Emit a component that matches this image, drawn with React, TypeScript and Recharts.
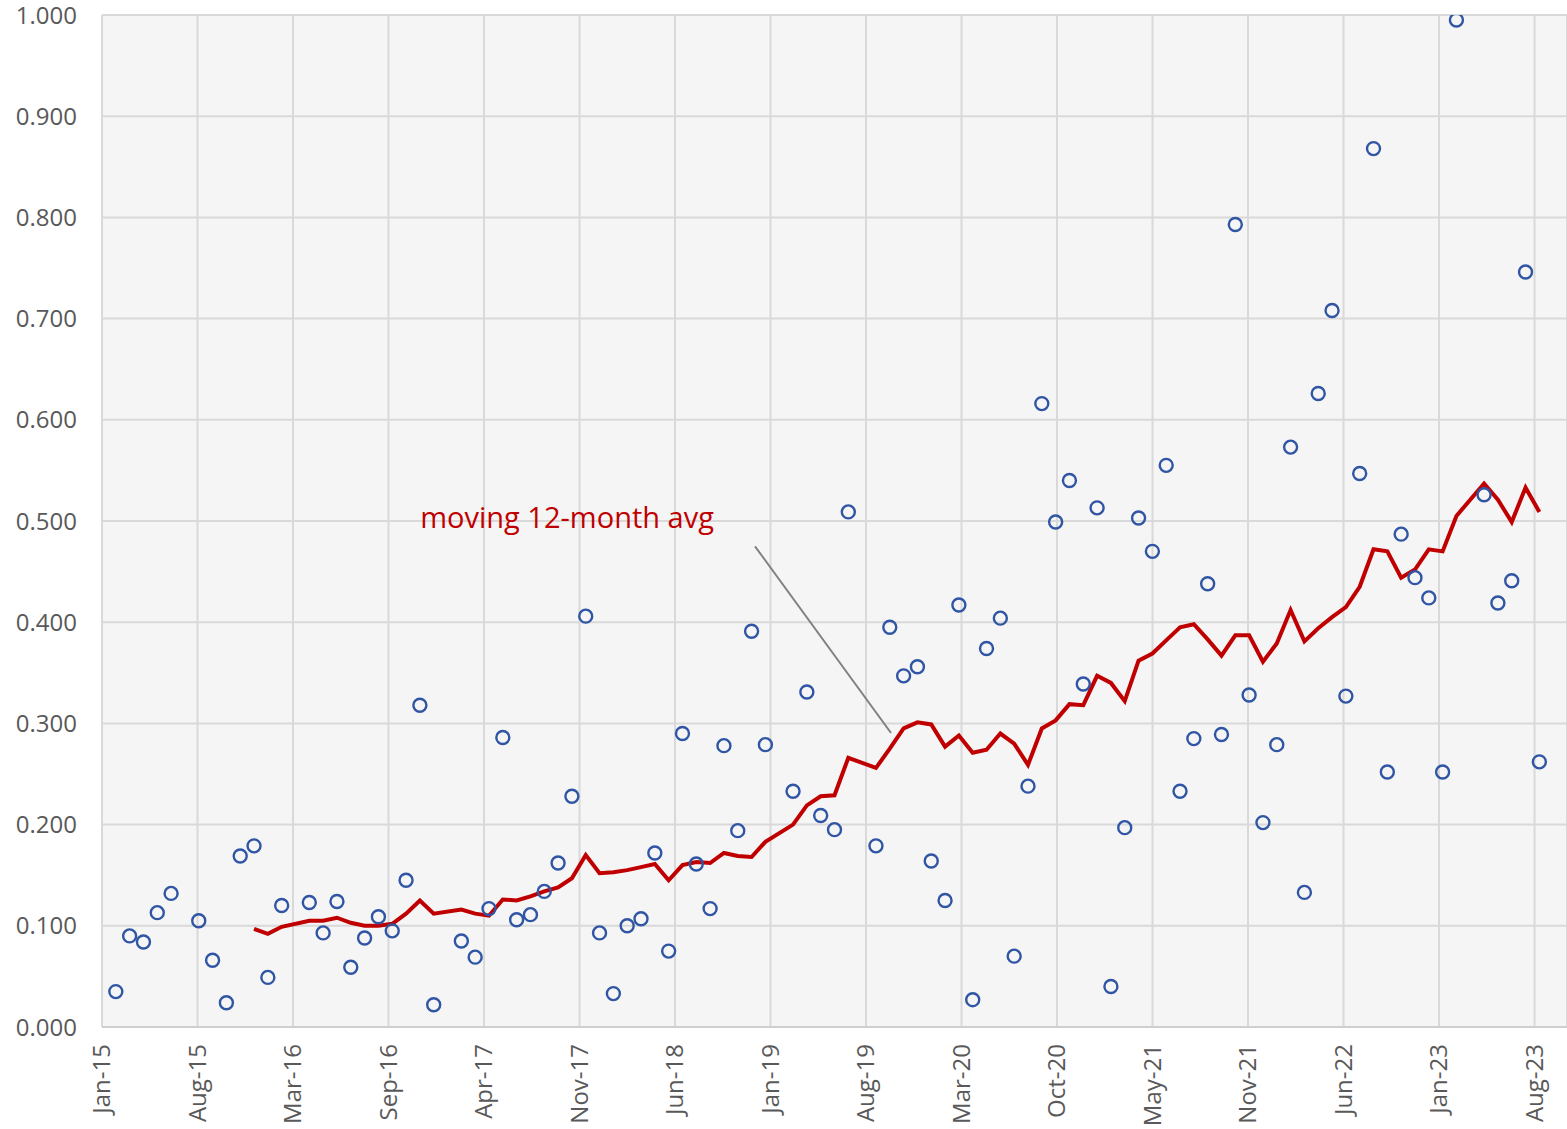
import React from 'react'
import {
  ComposedChart,
  Scatter,
  Line,
  XAxis,
  YAxis,
  CartesianGrid,
  ReferenceLine,
  ReferenceDot,
} from 'recharts'

// month index, 1 = Jan-15 ... 104 = Aug-23 (some months have no point)
const pointMonths = [
  1, 2, 3, 4, 5, 7, 8, 9, 10, 11, 12, 13, 15, 16, 17, 18, 19, 20, 21, 22, 23, 24,
  26, 27, 28, 29, 30, 31, 32, 33, 34, 35, 36, 37, 38, 39, 40, 41, 42, 43, 44, 45,
  46, 47, 48, 50, 51, 52, 53, 54, 56, 57, 58, 59, 60, 61, 62, 63, 64, 65, 66, 67,
  68, 69, 70, 71, 72, 73, 74, 75, 76, 77, 78, 79, 80, 81, 82, 83, 84, 85, 86, 87,
  88, 89, 90, 91, 92, 93, 94, 95, 96, 97, 98, 100, 101, 102, 103, 104,
]
const pointValues = [
  0.035, 0.09, 0.084, 0.113, 0.132, 0.105, 0.066, 0.024, 0.169, 0.179, 0.049, 0.12,
  0.123, 0.093, 0.124, 0.059, 0.088, 0.109, 0.095, 0.145, 0.318, 0.022,
  0.085, 0.069, 0.117, 0.286, 0.106, 0.111, 0.134, 0.162, 0.228, 0.406, 0.093, 0.033,
  0.1, 0.107, 0.172, 0.075, 0.29, 0.161, 0.117, 0.278, 0.194, 0.391, 0.279,
  0.233, 0.331, 0.209, 0.195, 0.509, 0.179, 0.395, 0.347, 0.356, 0.164, 0.125,
  0.417, 0.027, 0.374, 0.404, 0.07, 0.238, 0.616, 0.499, 0.54, 0.339, 0.513, 0.04,
  0.197, 0.503, 0.47, 0.555, 0.233, 0.285, 0.438, 0.289, 0.793, 0.328, 0.202, 0.279,
  0.573, 0.133, 0.626, 0.708, 0.327, 0.547, 0.868, 0.252, 0.487, 0.444, 0.424, 0.252,
  0.995, 0.526, 0.419, 0.441, 0.746, 0.262,
]

// moving 12-month average
const avgMonths = [
  11, 12, 13, 15, 16, 17, 18, 19, 20, 21, 22, 23, 24, 26, 27, 28, 29, 30, 31, 32,
  33, 34, 35, 36, 37, 38, 39, 40, 41, 42, 43, 44, 45, 46, 47, 48, 50, 51, 52, 53,
  54, 56, 57, 58, 59, 60, 61, 62, 63, 64, 65, 66, 67, 68, 69, 70, 71, 72, 73, 74,
  75, 76, 77, 78, 79, 80, 81, 82, 83, 84, 85, 86, 87, 88, 89, 90, 91, 92, 93, 94,
  95, 96, 97, 98, 100, 101, 102, 103, 104,
]
const avgValues = [
  0.097, 0.092, 0.099, 0.105, 0.105, 0.108, 0.103, 0.1, 0.1, 0.102, 0.112, 0.125,
  0.112, 0.116, 0.112, 0.11, 0.126, 0.125, 0.129, 0.134,
  0.138, 0.147, 0.17, 0.152, 0.153, 0.155, 0.158, 0.161, 0.145, 0.16, 0.163, 0.162,
  0.172, 0.169, 0.168, 0.183, 0.2, 0.219, 0.228, 0.229,
  0.266, 0.256, 0.275, 0.295, 0.301, 0.299, 0.277, 0.288, 0.271, 0.274, 0.29, 0.28,
  0.259, 0.295, 0.303, 0.319, 0.318, 0.347, 0.34, 0.322,
  0.362, 0.369, 0.382, 0.395, 0.398, 0.383, 0.367, 0.387, 0.387, 0.361, 0.379, 0.412,
  0.381, 0.394, 0.405, 0.415, 0.435, 0.472, 0.47, 0.444,
  0.452, 0.472, 0.47, 0.505, 0.537, 0.521, 0.499, 0.533, 0.509,
]

const xTicks = [
  0, 6.91, 13.82, 20.73, 27.64, 34.55, 41.46, 48.37, 55.28, 62.19, 69.1, 76.01,
  82.92, 89.83, 96.74, 103.65,
]
const xTickLabels = [
  'Jan-15', 'Aug-15', 'Mar-16', 'Sep-16', 'Apr-17', 'Nov-17', 'Jun-18', 'Jan-19',
  'Aug-19', 'Mar-20', 'Oct-20', 'May-21', 'Nov-21', 'Jun-22', 'Jan-23', 'Aug-23',
]
const yTicks = [0, 0.1, 0.2, 0.3, 0.4, 0.5, 0.6, 0.7, 0.8, 0.9, 1]

const points = pointMonths.map((m, i) => ({ m, v: pointValues[i] }))
const avg = avgMonths.map((m, i) => ({ m, v: avgValues[i] }))

const font = '"Open Sans", sans-serif'

function MonthTick(props: any) {
  const { x, y, payload } = props
  const label = xTickLabels[xTicks.indexOf(payload.value)]
  return (
    <g transform={`translate(${x},${y})`}>
      <text
        transform="rotate(-90)"
        x={-17}
        y={8}
        textAnchor="end"
        fill="#595959"
        fontSize={24}
        fontFamily={font}
      >
        {label}
      </text>
    </g>
  )
}

function Ring(props: any) {
  const { cx, cy } = props
  return <circle cx={cx} cy={cy} r={6.5} fill="none" stroke="#2f55a4" strokeWidth={2.4} />
}

export default function App() {
  return (
    <div style={{ position: 'absolute', left: 0, top: 0, background: '#fff' }}>
      <ComposedChart
        width={1567}
        height={1129}
        margin={{ top: 15, right: 0, bottom: 0, left: 0 }}
      >
        <CartesianGrid stroke="#d9d9d9" strokeWidth={2} fill="#f5f5f5" />
        <XAxis
          type="number"
          dataKey="m"
          domain={[0, 106]}
          ticks={xTicks}
          interval={0}
          height={102}
          tickLine={false}
          tickSize={0}
          tickMargin={0}
          axisLine={{ stroke: '#cfcfcf', strokeWidth: 2 }}
          tick={<MonthTick />}
          allowDataOverflow
        />
        <YAxis
          type="number"
          dataKey="v"
          domain={[0, 1]}
          ticks={yTicks}
          interval={0}
          width={102}
          tickLine={false}
          axisLine={false}
          tickSize={0}
          tickMargin={25}
          tickFormatter={(v: number) => v.toFixed(3)}
          tick={{ fill: '#595959', fontSize: 24, fontFamily: font }}
          allowDataOverflow
        />
        <ReferenceLine
          segment={[
            { x: 47.25, y: 0.475 },
            { x: 57.09, y: 0.2905 },
          ]}
          stroke="#808080"
          strokeWidth={2}
        />
        <Scatter data={points} dataKey="v" shape={<Ring />} isAnimationActive={false} />
        <Line
          data={avg}
          dataKey="v"
          type="linear"
          stroke="#c00000"
          strokeWidth={4}
          dot={false}
          activeDot={false}
          isAnimationActive={false}
        />
        <ReferenceDot
          x={33.65}
          y={0.503}
          r={0}
          fill="none"
          stroke="none"
          label={{
            value: 'moving 12-month avg',
            position: 'center',
            fill: '#c00000',
            fontSize: 29,
            fontFamily: font,
          }}
        />
      </ComposedChart>
    </div>
  )
}
